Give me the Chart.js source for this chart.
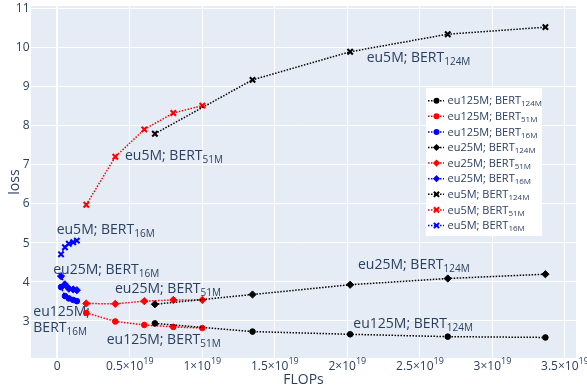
<!DOCTYPE html>
<html>
<head>
<meta charset="utf-8">
<script src="https://cdn.jsdelivr.net/npm/chart.js@4.4.1/dist/chart.umd.min.js"></script>
<style>
  html, body { margin: 0; padding: 0; background: #fff; }
  canvas { display: block; }
</style>
</head>
<body>
<canvas id="chart" width="587" height="392"></canvas>
<script>
// FLOPs per model size (x values)
const flopsBert124M = [0.673e19, 1.346e19, 2.019e19, 2.692e19, 3.365e19];
const flopsBert51M = [0.2e19, 0.4e19, 0.6e19, 0.8e19, 1.0e19];
const flopsBert16M = [0.026e19, 0.053e19, 0.08e19, 0.11e19, 0.135e19];

// loss values
const lossEu125MBert124M = [2.92, 2.71, 2.64, 2.58, 2.56];
const lossEu125MBert51M = [3.19, 2.97, 2.88, 2.83, 2.80];
const lossEu125MBert16M = [3.85, 3.62, 3.56, 3.52, 3.49];
const lossEu25MBert124M = [3.41, 3.66, 3.91, 4.07, 4.18];
const lossEu25MBert51M = [3.43, 3.42, 3.49, 3.52, 3.52];
const lossEu25MBert16M = [4.13, 3.92, 3.81, 3.79, 3.77];
const lossEu5MBert124M = [7.78, 9.16, 9.88, 10.33, 10.51];
const lossEu5MBert51M = [5.96, 7.19, 7.89, 8.31, 8.50];
const lossEu5MBert16M = [4.69, 4.87, 4.96, 5.00, 5.04];

const xTicks = [0, 0.5e19, 1e19, 1.5e19, 2e19, 2.5e19, 3e19, 3.5e19];
const xTickLabels = [["0", ""], ["0.5×10", "19"], ["1×10", "19"], ["1.5×10", "19"],
                     ["2×10", "19"], ["2.5×10", "19"], ["3×10", "19"], ["3.5×10", "19"]];
const yTicks = [3, 4, 5, 6, 7, 8, 9, 10, 11];

// text labels next to the curves: [text, subscript, x, y] (left / baseline)
const curveLabels = [
    ["eu5M; BERT", "124M", 2.133e19, 9.62],
    ["eu5M; BERT", "51M", 0.467e19, 7.10],
    ["eu5M; BERT", "16M", -0.004e19, 5.21],
    ["eu25M; BERT", "16M", -0.028e19, 4.18],
    ["eu25M; BERT", "51M", 0.398e19, 3.70],
    ["eu125M;", "", -0.165e19, 3.11],
    ["BERT", "16M", -0.165e19, 2.71],
    ["eu125M; BERT", "51M", 0.341e19, 2.40],
    ["eu25M; BERT", "124M", 2.073e19, 4.31],
    ["eu125M; BERT", "124M", 2.041e19, 2.81]
];

const TEXT = "#2a3f5f";
const FONT = '"Open Sans", sans-serif';

function series(label, sub, xs, ys, color, style) {
    return {
        label: label,
        sub: sub,
        data: xs.map((x, i) => ({ x: x, y: ys[i] })),
        borderColor: color,
        backgroundColor: color,
        borderWidth: 1.5,
        borderDash: [1.5, 1.5],
        pointStyle: style,
        pointRadius: style === "rectRot" ? 3.6 : (style === "circle" ? 2.8 : 3.8),
        pointBorderWidth: style === "crossRot" ? 2.1 : 1,
        pointBackgroundColor: color,
        pointBorderColor: color,
        tension: 0,
        fill: false
    };
}

const datasets = [
    series("eu125M; BERT", "124M", flopsBert124M, lossEu125MBert124M, "#000000", "circle"),
    series("eu125M; BERT", "51M", flopsBert51M, lossEu125MBert51M, "#ff0000", "circle"),
    series("eu125M; BERT", "16M", flopsBert16M, lossEu125MBert16M, "#0000ff", "circle"),
    series("eu25M; BERT", "124M", flopsBert124M, lossEu25MBert124M, "#000000", "rectRot"),
    series("eu25M; BERT", "51M", flopsBert51M, lossEu25MBert51M, "#ff0000", "rectRot"),
    series("eu25M; BERT", "16M", flopsBert16M, lossEu25MBert16M, "#0000ff", "rectRot"),
    series("eu5M; BERT", "124M", flopsBert124M, lossEu5MBert124M, "#000000", "crossRot"),
    series("eu5M; BERT", "51M", flopsBert51M, lossEu5MBert51M, "#ff0000", "crossRot"),
    series("eu5M; BERT", "16M", flopsBert16M, lossEu5MBert16M, "#0000ff", "crossRot")
];

function richText(ctx, x, y, text, sub, size, subSize, subDy) {
    ctx.font = size + "px " + FONT;
    ctx.fillText(text, x, y);
    const w = ctx.measureText(text).width;
    if (sub) {
        ctx.font = subSize + "px " + FONT;
        ctx.fillText(sub, x + w, y + subDy);
    }
}

function marker(ctx, style, x, y, r, color) {
    ctx.save();
    ctx.fillStyle = color;
    ctx.strokeStyle = color;
    ctx.setLineDash([]);
    ctx.beginPath();
    if (style === "circle") {
        ctx.arc(x, y, r, 0, Math.PI * 2);
        ctx.fill();
    } else if (style === "rectRot") {
        ctx.moveTo(x, y - r); ctx.lineTo(x + r, y); ctx.lineTo(x, y + r); ctx.lineTo(x - r, y);
        ctx.closePath();
        ctx.fill();
    } else {
        ctx.lineWidth = 2;
        ctx.moveTo(x - r, y - r); ctx.lineTo(x + r, y + r);
        ctx.moveTo(x + r, y - r); ctx.lineTo(x - r, y + r);
        ctx.stroke();
    }
    ctx.restore();
}

const plotDecor = {
    id: "plotDecor",
    beforeDraw(chart) {
        const { ctx, chartArea: a } = chart;
        ctx.save();
        ctx.fillStyle = "#e5ecf6";
        ctx.fillRect(a.left, a.top, a.right - a.left, a.bottom - a.top);
        ctx.restore();
    },
    beforeDatasetsDraw(chart) {
        const { ctx, scales } = chart;
        ctx.save();
        ctx.fillStyle = TEXT;
        curveLabels.forEach(([t, s, x, y]) => {
            richText(ctx, scales.x.getPixelForValue(x), scales.y.getPixelForValue(y), t, s, 14, 10, 3);
        });
        ctx.restore();
    },
    afterDraw(chart) {
        const { ctx, chartArea: a, scales } = chart;
        ctx.save();
        ctx.fillStyle = TEXT;

        // x tick labels with exponent
        xTicks.forEach((v, i) => {
            const [base, sup] = xTickLabels[i];
            ctx.font = "12px " + FONT;
            const wb = ctx.measureText(base).width;
            ctx.font = "9px " + FONT;
            const ws = sup ? ctx.measureText(sup).width : 0;
            const left = scales.x.getPixelForValue(v) - (wb + ws) / 2;
            ctx.font = "12px " + FONT;
            ctx.fillText(base, left, a.bottom + 11.5);
            if (sup) {
                ctx.font = "9px " + FONT;
                ctx.fillText(sup, left + wb, a.bottom + 6);
            }
        });

        // y tick labels
        ctx.font = "12px " + FONT;
        ctx.textAlign = "right";
        yTicks.forEach(v => {
            ctx.fillText(String(v), a.left - 1.5, scales.y.getPixelForValue(v) + 4.3);
        });

        // axis titles
        ctx.font = "14px " + FONT;
        ctx.textAlign = "center";
        ctx.fillText("FLOPs", (a.left + a.right) / 2, a.bottom + 26);
        ctx.save();
        ctx.translate(19, (a.top + a.bottom) / 2);
        ctx.rotate(-Math.PI / 2);
        ctx.fillText("loss", 0, 0);
        ctx.restore();

        // legend
        ctx.textAlign = "left";
        ctx.fillStyle = "#ffffff";
        ctx.fillRect(426, 88, 116, 148);
        datasets.forEach((d, i) => {
            const cy = 100.7 + i * 15.6;
            ctx.save();
            ctx.strokeStyle = d.borderColor;
            ctx.lineWidth = 1.5;
            ctx.setLineDash([1.5, 1.5]);
            ctx.beginPath();
            ctx.moveTo(428, cy);
            ctx.lineTo(444, cy);
            ctx.stroke();
            ctx.restore();
            marker(ctx, d.pointStyle, 436.5, cy, d.pointStyle === "circle" ? 3 : (d.pointStyle === "rectRot" ? 3.6 : 2.6), d.borderColor);
            ctx.fillStyle = TEXT;
            richText(ctx, 447.5, cy + 3.6, d.label, d.sub, 11, 8, 2);
        });
        ctx.restore();
    }
};

new Chart(document.getElementById("chart").getContext("2d"), {
    type: "line",
    data: { datasets: datasets },
    options: {
        responsive: false,
        animation: false,
        events: [],
        layout: {
            padding: { left: 31, top: 3, right: 11, bottom: 34 }
        },
        scales: {
            x: {
                type: "linear",
                min: -0.181e19,
                max: 3.576e19,
                afterBuildTicks: scale => { scale.ticks = xTicks.map(v => ({ value: v })); },
                grid: {
                    color: "#ffffff",
                    lineWidth: ctx => (ctx.tick && ctx.tick.value === 0 ? 2 : 1),
                    drawTicks: false
                },
                border: { display: false },
                ticks: { display: false }
            },
            y: {
                min: 2.033,
                max: 11.05,
                afterBuildTicks: scale => { scale.ticks = yTicks.map(v => ({ value: v })); },
                grid: {
                    color: "#ffffff",
                    drawTicks: false
                },
                border: { display: false },
                ticks: { display: false }
            }
        },
        plugins: {
            legend: { display: false },
            tooltip: { enabled: false }
        }
    },
    plugins: [plotDecor]
});
</script>
</body>
</html>
